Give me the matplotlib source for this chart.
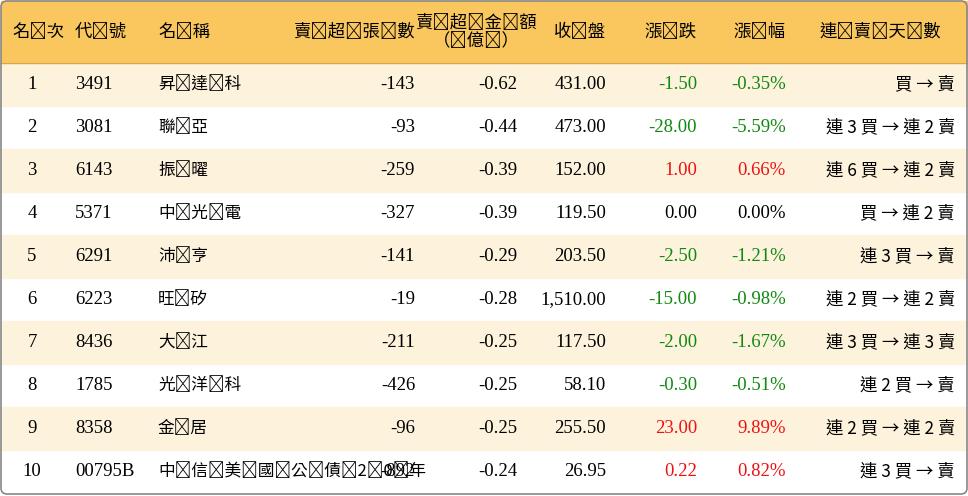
import matplotlib
matplotlib.use("Agg")
import matplotlib.pyplot as plt
from matplotlib.patches import Rectangle, FancyBboxPatch

ranks = ["1","2","3","4","5","6","7","8","9","10"]
codes = ["3491","3081","6143","5371","6291","6223","8436","1785","8358","00795B"]
names = ["昇達科","聯亞","振曜","中光電","沛亨","旺矽","大江","光洋科","金居","中信美國公債20年"]
net_lots = [-143,-93,-259,-327,-141,-19,-211,-426,-96,-892]
net_amount = [-0.62,-0.44,-0.39,-0.39,-0.29,-0.28,-0.25,-0.25,-0.25,-0.24]
close = [431.00,473.00,152.00,119.50,203.50,1510.00,117.50,58.10,255.50,26.95]
change = [-1.50,-28.00,1.00,0.00,-2.50,-15.00,-2.00,-0.30,23.00,0.22]
pct = [-0.35,-5.59,0.66,0.00,-1.21,-0.98,-1.67,-0.51,9.89,0.82]
streak = ["買 → 賣","連 3 買 → 連 2 賣","連 6 買 → 連 2 賣","買 → 連 2 賣","連 3 買 → 賣",
          "連 2 買 → 連 2 賣","連 3 買 → 連 3 賣","連 2 買 → 賣","連 2 買 → 連 2 賣","連 3 買 → 賣"]
headers = ["名次","代號","名稱","賣超張數","賣超金額\n（億）","收盤","漲跌","漲幅","連賣天數"]

W, H = 968, 496
fig = plt.figure(figsize=(W/100, H/100), dpi=100)
ax = fig.add_axes([0, 0, 1, 1])
ax.set_xlim(0, W); ax.set_ylim(H, 0); ax.axis("off")

CJK = "Noto Sans CJK TC"
SER = "Liberation Serif"
hdr_h = 63
row_h = 43
ax.add_patch(Rectangle((1, 1), W-2, hdr_h-1, color="#F9C75E", zorder=0))
for i in range(len(ranks)):
    y0 = hdr_h + i*row_h
    if i % 2 == 0:
        ax.add_patch(Rectangle((1, y0), W-2, row_h, color="#FDF3DD", zorder=0))
ax.plot([1, W-1], [hdr_h, hdr_h], color="#d9a640", lw=1)
ax.add_patch(FancyBboxPatch((1, 1), W-2, H-3, boxstyle="round,pad=0,rounding_size=6",
                            fill=False, ec="#888888", lw=1.2, zorder=5))

def spaced(t):
    return "\n".join("\u2009".join(line) for line in t.split("\n"))

hpos = [(12, "left"), (75, "left"), (158, "left"), (415, "right"), (476, "center"),
        (606, "right"), (697, "right"), (786, "right"), (880, "center")]
for (x, ha), t in zip(hpos, headers):
    ax.text(x, 32, spaced(t), ha=ha, va="center", fontsize=12.5, fontfamily=CJK, linespacing=1.0)

def col(v):
    if v > 0: return "#ee1111"
    if v < 0: return "#118811"
    return "#000000"

fs = 13.5
for i in range(len(ranks)):
    y = hdr_h + i*row_h + row_h/2
    ax.text(32, y, ranks[i], ha="center", va="center", fontsize=fs, fontfamily=SER)
    ax.text(75, y, codes[i], ha="left", va="center", fontsize=fs, fontfamily=SER)
    ax.text(158, y, spaced(names[i]), ha="left", va="center", fontsize=12, fontfamily=CJK)
    ax.text(415, y, f"{net_lots[i]}", ha="right", va="center", fontsize=fs, fontfamily=SER)
    ax.text(517, y, f"{net_amount[i]:.2f}", ha="right", va="center", fontsize=fs, fontfamily=SER)
    ax.text(606, y, f"{close[i]:,.2f}", ha="right", va="center", fontsize=fs, fontfamily=SER)
    ax.text(697, y, f"{change[i]:.2f}", ha="right", va="center", fontsize=fs, fontfamily=SER, color=col(change[i]))
    ax.text(786, y, f"{pct[i]:.2f}%", ha="right", va="center", fontsize=fs, fontfamily=SER, color=col(pct[i]))
    ax.text(955, y, streak[i], ha="right", va="center", fontsize=12.5, fontfamily=CJK)

fig.savefig("out.png", dpi=100)
